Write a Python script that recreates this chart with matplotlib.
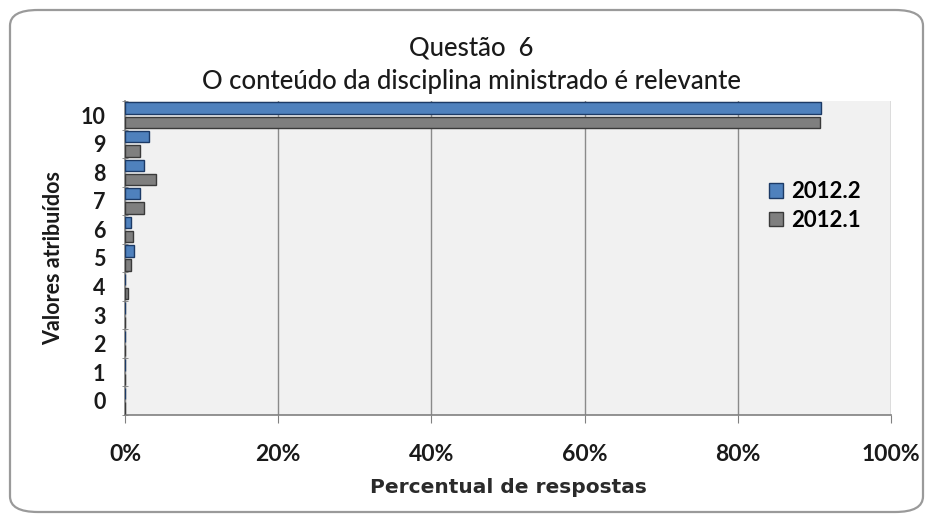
import numpy as np
import matplotlib
matplotlib.use("Agg")
import matplotlib.pyplot as plt
from matplotlib.patches import FancyBboxPatch, Patch
from matplotlib.ticker import PercentFormatter, MultipleLocator

# values (percent of answers)
categorias = [0, 1, 2, 3, 4, 5, 6, 7, 8, 9, 10]
v_2012_2 = [0.0, 0.0, 0.0, 0.0, 0.0, 1.2, 0.8, 2.0, 2.5, 3.1, 90.9]
v_2012_1 = [0.0, 0.0, 0.0, 0.0, 0.4, 0.8, 1.0, 2.5, 4.0, 2.0, 90.7]
series = ["2012.2", "2012.1"]

titulo1 = "Questão  6"
titulo2 = "O conteúdo da disciplina ministrado é relevante"
xlabel = "Percentual de respostas"
ylabel = "Valores atribuídos"

azul, azul_borda = "#4f81bd", "#1c3a66"
cinza, cinza_borda = "#7f7f7f", "#3a3a3a"

fig = plt.figure(figsize=(9.33, 5.22), dpi=100)
fig.patch.set_facecolor("white")

# rounded frame around the whole chart
frame = FancyBboxPatch((10 / 933, 10 / 522), 913 / 933, 502 / 522,
                       boxstyle="round,pad=0,rounding_size=0.03",
                       transform=fig.transFigure, facecolor="none",
                       edgecolor="#9a9a9a", linewidth=1.6, zorder=5)
fig.patches.append(frame)

ax = fig.add_axes([125 / 933, 1 - 415 / 522, 766 / 933, 314 / 522])
ax.set_facecolor("#f1f1f1")

y = np.arange(len(categorias))
h = 0.4
ax.barh(y + 0.25, v_2012_2, height=h, color=azul, edgecolor=azul_borda,
        linewidth=1.0, label=series[0], zorder=3)
ax.barh(y - 0.25, v_2012_1, height=h, color=cinza, edgecolor=cinza_borda,
        linewidth=1.0, label=series[1], zorder=3)

ax.set_xlim(0, 100)
ax.set_ylim(-0.5, len(categorias) - 0.5)
ax.xaxis.set_major_locator(MultipleLocator(20))
ax.xaxis.set_major_formatter(PercentFormatter(xmax=100, decimals=0))
ax.set_yticks(y)
ax.set_yticklabels([str(c) for c in categorias])
ax.set_yticks(np.arange(-0.5, len(categorias), 1), minor=True)
ax.tick_params(axis="y", which="major", length=0, pad=14)
ax.tick_params(axis="y", which="minor", length=5, color="#808080", direction="inout")
ax.tick_params(axis="x", length=6, color="#808080", pad=15)

for lab in ax.get_xticklabels():
    lab.set_fontfamily("Lato")
    lab.set_fontweight("bold")
    lab.set_fontsize(16.5)
    lab.set_color("#1a1a1a")
for lab in ax.get_yticklabels():
    lab.set_fontfamily("Lato")
    lab.set_fontweight("bold")
    lab.set_fontsize(15.5)
    lab.set_color("#1a1a1a")

ax.grid(axis="x", color="#8a8a8a", linewidth=1.0, zorder=1)
ax.set_axisbelow(True)
for s in ["top", "right"]:
    ax.spines[s].set_visible(False)
for s in ["left", "bottom"]:
    ax.spines[s].set_color("#808080")
    ax.spines[s].set_linewidth(1.2)

ax.set_xlabel(xlabel, fontfamily="DejaVu Sans", fontweight="bold",
              fontsize=14.5, color="#2a2a2a", labelpad=9)
ax.set_ylabel(ylabel, fontfamily="Lato", fontweight="bold",
              fontsize=15.5, color="#1a1a1a", labelpad=12)

fig.text(0.505, 1 - 48 / 522, titulo1, ha="center", va="center",
         fontfamily="Lato", fontweight="medium", fontsize=18.5, color="#1a1a1a")
fig.text(0.505, 1 - 81 / 522, titulo2, ha="center", va="center",
         fontfamily="Lato", fontweight="medium", fontsize=18.5, color="#1a1a1a")

handles = [Patch(facecolor=azul, edgecolor=azul_borda),
           Patch(facecolor=cinza, edgecolor=cinza_borda)]
leg = ax.legend(handles, series, loc="center left", bbox_to_anchor=(0.815, 0.665),
                frameon=False, handlelength=0.6, handleheight=0.6,
                handletextpad=0.4, labelspacing=0.35,
                prop={"family": "Lato", "weight": "bold", "size": 16})

fig.savefig("out.png", dpi=100)
